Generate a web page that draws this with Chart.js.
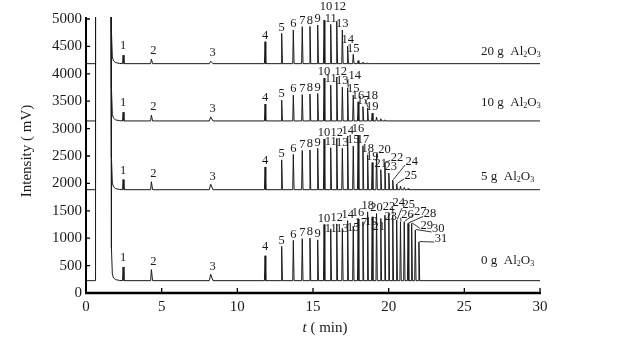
<!DOCTYPE html>
<html>
<head>
<meta charset="utf-8">
<script src="https://cdn.jsdelivr.net/npm/chart.js@4.4.1/dist/chart.umd.min.js"></script>
<style>
html, body { margin: 0; padding: 0; background: #fff; }
</style>
</head>
<body>
<canvas id="chart" width="626" height="345"></canvas>
<script>
// ---- data ----
const xTickValues = [0, 5, 10, 15, 20, 25, 30];
const yTickValues = [0, 500, 1000, 1500, 2000, 2500, 3000, 3500, 4000, 4500, 5000];

const traceNames = ['20 g', '10 g', '5 g', '0 g'];
const baselines = [4185, 3140, 1885, 225];

// injection jump and solvent front (min), tail above baseline (mV)
const startTime = 0.62;
const solventTime = 1.66;
const solventTailTimes = [1.68, 1.74, 1.82, 1.95, 2.2];
const solventTail = [600, 120, 50, 20, 5];

// peaks 1-3
const earlyNo = [1, 2, 3];
const earlyTimes = [2.45, 4.32, 8.24];
const earlyWidths = [0.06, 0.08, 0.15];
const early20 = [4340, 4270, 4230];
const early10 = [3300, 3245, 3215];
const early5 = [2070, 2030, 1985];
const early0 = [475, 427, 342];

// peaks 4-31 retention times
const peakNo = [4, 5, 6, 7, 8, 9, 10, 11, 12, 13, 14, 15, 16, 17, 18, 19, 20, 21, 22, 23, 24, 25, 26, 27, 28, 29, 30, 31];
const peakTimes = [11.83, 12.93, 13.70, 14.29, 14.80, 15.31, 15.73, 16.17, 16.57, 16.94, 17.29, 17.66, 17.98, 18.30,
  18.61, 18.91, 19.20, 19.48, 19.75, 20.01, 20.27, 20.53, 20.78, 21.03, 21.28, 21.52, 21.76, 22.00];

// peak tops (mV), starting at peak 4
const peaks20 = [4585, 4739, 4800, 4860, 4865, 4890, 4980, 4900, 4960, 4800, 4505, 4355, 4240, 4215, 4200];
const peaks10 = [3447, 3520, 3611, 3620, 3630, 3640, 3922, 3794, 3940, 3757, 3740, 3611, 3490, 3400, 3374, 3283, 3210, 3180, 3160];
const peaks5 = [2300, 2430, 2530, 2600, 2610, 2640, 2810, 2650, 2820, 2640, 2860, 2680, 2880, 2680, 2520, 2380, 2540,
  2250, 2380, 2190, 2060, 1990, 1950, 1925, 1905];
const peaks0 = [680, 850, 960, 990, 1000, 970, 1250, 1170, 1260, 1180, 1320, 1220, 1350, 1300, 1480, 1390, 1450, 1360,
  1420, 1450, 1420, 1330, 1300, 1300, 1270, 1270, 1150, 930];

const lastLabel = [15, 19, 25, 31];

// ---- label layout (px from peak top: dx, dy, leader) ----
const earlyNudge = [[0, -9], [2, -8], [2, -8]];
const labelNudge = [
  { 10: [2, -13], 12: [3, -14] },
  { 12: [4, -5], 14: [7, -12, 1], 18: [4, -12, 1] },
  { 20: [8, -4, 1], 22: [12, -5, 1], 23: [2, -6], 24: [19, -18, 1], 25: [14, -8, 1] },
  { 4: [0, -9], 11: [0, 0], 13: [0, 0], 15: [0, 2], 17: [-2, 1], 19: [-1, 5], 21: [-2, 8], 22: [4, -8], 23: [2, 3],
    24: [6, -12, 1], 25: [12, -15, 1], 26: [7, -7, 1], 27: [16, -10, 1], 28: [22, -10, 1], 29: [15, 2, 1],
    30: [23, -1, 1], 31: [22, -3, 1] }
];
const nameOffsets = [-12, -18, -13, -20];

const earlyByTrace = [early20, early10, early5, early0];
const peaksByTrace = [peaks20, peaks10, peaks5, peaks0];
const offTop = 6000;
const serif = "'Liberation Serif', 'DejaVu Serif', serif";
const ink = '#1a1a1a';

function buildTrace(i) {
  const base = baselines[i];
  const pts = [{ x: 0, y: base }, { x: startTime, y: base }, { x: startTime + 0.01, y: offTop }, { x: solventTime, y: offTop }];
  solventTailTimes.forEach((t, k) => pts.push({ x: t, y: base + solventTail[k] }));
  earlyTimes.forEach((t, k) => {
    const w = earlyWidths[k];
    pts.push({ x: t - w * 0.6, y: base }, { x: t, y: earlyByTrace[i][k] }, { x: t + w, y: base });
  });
  peaksByTrace[i].forEach((h, k) => {
    const t = peakTimes[k];
    pts.push({ x: t - 0.04, y: base }, { x: t, y: h }, { x: t + 0.05, y: base });
  });
  pts.push({ x: 30, y: base });
  return pts;
}

const datasets = traceNames.map((n, i) => ({
  label: n,
  data: buildTrace(i),
  showLine: true,
  borderColor: ink,
  borderWidth: 1,
  borderJoinStyle: 'bevel',
  pointRadius: 0,
  tension: 0,
  clip: { left: 0, top: 2, right: 0, bottom: 0 }
}));

function drawFormula(ctx, x, y, parts) {
  let cx = x;
  parts.forEach(([txt, sub]) => {
    ctx.font = sub ? '8px ' + serif : '13px ' + serif;
    ctx.fillText(txt, cx, y + (sub ? 3 : 0));
    cx += ctx.measureText(txt).width;
  });
}

const decor = {
  id: 'decor',
  afterDraw(chart) {
    const { ctx, chartArea: a, scales: { x, y } } = chart;
    ctx.save();
    ctx.strokeStyle = '#000';
    ctx.fillStyle = ink;

    // axis lines
    ctx.lineWidth = 2;
    ctx.beginPath();
    ctx.moveTo(a.left, a.top - 2);
    ctx.lineTo(a.left, a.bottom);
    ctx.stroke();
    ctx.lineWidth = 2.5;
    ctx.beginPath();
    ctx.moveTo(a.left - 1, a.bottom);
    ctx.lineTo(a.right + 1, a.bottom);
    ctx.stroke();

    // inward ticks
    ctx.lineWidth = 1.3;
    ctx.beginPath();
    yTickValues.forEach(v => {
      const py = y.getPixelForValue(v);
      ctx.moveTo(a.left, py);
      ctx.lineTo(a.left + 4, py);
    });
    xTickValues.forEach(v => {
      const px = x.getPixelForValue(v);
      ctx.moveTo(px, a.bottom);
      ctx.lineTo(px, a.bottom - 5);
    });
    ctx.stroke();

    // axis titles
    ctx.font = '15px ' + serif;
    ctx.textAlign = 'center';
    ctx.textBaseline = 'middle';
    ctx.save();
    ctx.translate(27, (a.top + a.bottom) / 2 - 5);
    ctx.rotate(-Math.PI / 2);
    ctx.fillText('Intensity ( mV)', 0, 0);
    ctx.restore();

    ctx.textAlign = 'left';
    ctx.font = 'italic 15px ' + serif;
    const tW = ctx.measureText('t').width;
    ctx.font = '15px ' + serif;
    const restW = ctx.measureText(' ( min)').width;
    const tx = (a.left + a.right) / 2 + 12 - (tW + restW) / 2;
    ctx.font = 'italic 15px ' + serif;
    ctx.fillText('t', tx, a.bottom + 35);
    ctx.font = '15px ' + serif;
    ctx.fillText(' ( min)', tx + tW, a.bottom + 35);

    // peak labels
    ctx.font = '12.5px ' + serif;
    ctx.textAlign = 'center';
    ctx.lineWidth = 0.8;
    traceNames.forEach((n, i) => {
      const nums = earlyNo.concat(peakNo);
      const times = earlyTimes.concat(peakTimes);
      const tops = earlyByTrace[i].concat(peaksByTrace[i]);
      nums.forEach((num, k) => {
        if (num > lastLabel[i]) return;
        const px = x.getPixelForValue(times[k]);
        const py = y.getPixelForValue(tops[k]);
        const nd = k < earlyNo.length ? earlyNudge[k] : (labelNudge[i][num] || [0, -6]);
        const cx = px + nd[0];
        const cy = py + nd[1];
        const txt = String(num);
        ctx.fillText(txt, cx, cy);
        if (nd[2]) {
          const w = ctx.measureText(txt).width;
          ctx.beginPath();
          ctx.moveTo(px + 0.5, py - 0.5);
          ctx.lineTo(cx - w / 2 - 0.5, cy + 3);
          ctx.stroke();
        }
      });

      // trace name
      ctx.textAlign = 'left';
      const ny = y.getPixelForValue(baselines[i]) + nameOffsets[i];
      drawFormula(ctx, 481, ny, [[n + '  Al', false], ['2', true], ['O', false], ['3', true]]);
      ctx.font = '12.5px ' + serif;
      ctx.textAlign = 'center';
    });
    ctx.restore();
  }
};

new Chart(document.getElementById('chart').getContext('2d'), {
  type: 'scatter',
  data: { datasets: datasets },
  options: {
    responsive: false,
    animation: false,
    devicePixelRatio: 1,
    layout: { padding: { top: 19, right: 86, left: 0, bottom: 0 } },
    plugins: { legend: { display: false }, tooltip: { enabled: false } },
    scales: {
      x: {
        type: 'linear',
        min: 0,
        max: 30,
        afterBuildTicks: s => { s.ticks = xTickValues.map(v => ({ value: v })); },
        afterFit: s => { s.height = 52; },
        grid: { display: false, drawTicks: false },
        border: { display: false },
        ticks: { padding: 5, color: ink, font: { family: serif, size: 15 }, maxRotation: 0, callback: v => String(v) }
      },
      y: {
        min: 0,
        max: 5000,
        afterBuildTicks: s => { s.ticks = yTickValues.map(v => ({ value: v })); },
        afterFit: s => { s.width = 86; },
        grid: { display: false, drawTicks: false },
        border: { display: false },
        ticks: { padding: 4, color: ink, font: { family: serif, size: 15 }, callback: v => String(v) }
      }
    }
  },
  plugins: [decor]
});
</script>
</body>
</html>
